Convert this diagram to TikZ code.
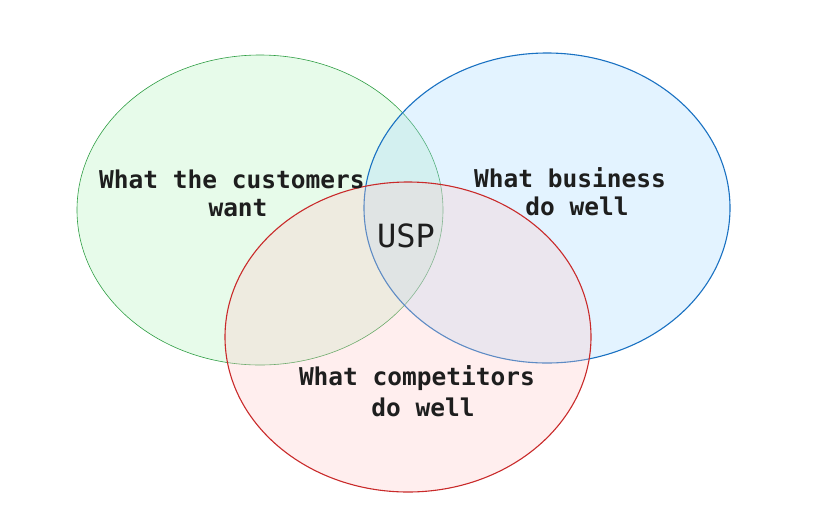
\documentclass[tikz,border=0pt]{standalone}
\usepackage{fontspec}
\setmonofont{DejaVu Sans Mono}
\usetikzlibrary{shapes.geometric}
\definecolor{gstroke}{HTML}{2F9E44}
\definecolor{gfill}{HTML}{B2F2BB}
\definecolor{bstroke}{HTML}{1971C2}
\definecolor{bfill}{HTML}{A5D8FF}
\definecolor{rstroke}{HTML}{C92A2A}
\definecolor{rfill}{HTML}{FFC9C9}
\definecolor{ink}{HTML}{1E1E1E}
\tikzset{
  venn/.style={ellipse, minimum width=366pt, minimum height=310pt, inner sep=0pt, fill opacity=0.3},
  lbl/.style={text=ink, font=\ttfamily\bfseries\fontsize{24.5}{29}\selectfont, inner sep=0pt, anchor=center},
  usp/.style={text=ink, font=\ttfamily\fontsize{32}{36}\selectfont, inner sep=0pt, anchor=center}
}
\begin{document}
\begin{tikzpicture}[x=1pt,y=-1pt]
\useasboundingbox (0,0) rectangle (836,531);
\fill[white] (0,0) rectangle (836,531);
\node[venn, draw=gstroke, line width=0.6pt, fill=gfill] (green) at (260,210) {};
\node[venn, draw=bstroke, line width=1.1pt, fill=bfill] (blue) at (547,208) {};
\node[venn, draw=rstroke, line width=1.1pt, fill=rfill] (red) at (408,337) {};
\node[lbl] (c1) at (232,179) {What the customers};
\node[lbl] (c2) at (238,208) {want};
\node[lbl] (b1) at (570,178) {What business};
\node[lbl] (b2) at (577,206) {do well};
\node[lbl] (r1) at (417,378) {What competitors};
\node[lbl] (r2) at (423,407) {do well};
\node[usp] (usp) at (406,236) {USP};
\end{tikzpicture}
\end{document}
